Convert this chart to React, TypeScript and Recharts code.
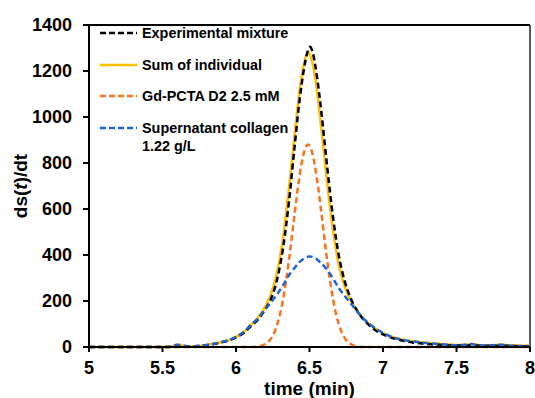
import React from "react";
import {
  LineChart,
  Line,
  XAxis,
  YAxis,
  ReferenceLine
} from "recharts";

// time axis (min), non-uniform so the peak gets more points
const time: number[] = [
  5.0, 5.1, 5.2, 5.3, 5.4, 5.5, 5.55, 5.6, 5.65, 5.7, 5.75, 5.8, 5.85, 5.9, 5.95,
  6.0, 6.05, 6.1, 6.15, 6.2, 6.24, 6.28, 6.32, 6.36, 6.4, 6.43, 6.46, 6.49, 6.505, 6.52,
  6.55, 6.58, 6.62, 6.66, 6.7, 6.74, 6.78, 6.82, 6.86, 6.9, 6.95, 7.0, 7.05, 7.1,
  7.2, 7.3, 7.4, 7.5, 7.55, 7.6, 7.65, 7.7, 7.75, 7.8, 7.85, 7.9, 8.0,
];

const experimental: number[] = [
  0, 0, 0, 0, 0, 0, 0, 2, 2, 2, 4, 8, 13, 20, 29,
  42, 60, 90, 120, 165, 212, 295, 430, 630, 880, 1060, 1200, 1290, 1305, 1285,
  1180, 1025, 785, 565, 395, 285, 212, 162, 125, 98, 72, 55, 42, 33,
  20, 13, 9, 6, 6, 8, 6, 5, 5, 6, 5, 4, 3,
];

const sumIndividual: number[] = [
  0, 0, 0, 0, 0, 0, 1, 10, 5, 2, 5, 9, 14, 21, 30,
  44, 64, 95, 128, 178, 234, 327, 475, 689, 932, 1103, 1225, 1284, 1268, 1236,
  1117, 951, 713, 505, 353, 261, 203, 161, 128, 104, 80, 62, 47, 37,
  25, 18, 13, 9, 10, 13, 9, 7, 8, 10, 8, 6, 5,
];

const gdPcta: number[] = [
  0, 0, 0, 0, 0, 0, 0, 0, 0, 0, 0, 0, 0, 0, 0,
  0, 0, 0, 3, 13, 39, 97, 207, 377, 587, 735, 841, 880, 870, 841,
  735, 587, 377, 207, 97, 39, 13, 3, 0, 0, 0, 0, 0, 0,
  0, 0, 0, 0, 0, 0, 0, 0, 0, 0, 0, 0, 0,
];

const supernatant: number[] = [
  0, 0, 0, 0, 0, 0, 1, 10, 5, 2, 5, 9, 14, 21, 30,
  44, 64, 95, 125, 165, 195, 230, 268, 312, 345, 368, 384, 393, 394, 392,
  382, 364, 336, 298, 256, 222, 190, 158, 128, 104, 80, 61, 46, 36,
  24, 17, 12, 8, 9, 13, 8, 6, 8, 10, 7, 5, 4,
];

const xTicks = [5, 5.5, 6, 6.5, 7, 7.5, 8];
const yTicks = [0, 200, 400, 600, 800, 1000, 1200, 1400];

const data = time.map((t, i) => ({
  t,
  experimental: experimental[i],
  sum: sumIndividual[i],
  gd: gdPcta[i],
  sup: supernatant[i],
}));

const FONT = "'Liberation Sans', Arial, sans-serif";
const BLACK = "#000000";
const YELLOW = "#FFC000";
const ORANGE = "#F7731E";
const BLUE = "#1C64D4";

const legendItems = [
  { label: ["Experimental mixture"], color: BLACK, dash: "6 3" },
  { label: ["Sum of individual"], color: YELLOW, dash: undefined },
  { label: ["Gd-PCTA D2 2.5 mM"], color: ORANGE, dash: "6 3" },
  { label: ["Supernatant collagen", "1.22 g/L"], color: BLUE, dash: "6 3" },
];

const tickStyle = { fontFamily: FONT, fontSize: 18, fontWeight: 700, fill: "#000" };

const App: React.FC = () => {
  return (
    <div style={{ position: "absolute", left: 0, top: 0, width: 535, height: 398, background: "#fff" }}>
      <LineChart
        width={535}
        height={398}
        data={data}
        margin={{ top: 25, right: 5, bottom: 21, left: 29 }}
      >
        <XAxis
          dataKey="t"
          type="number"
          domain={[5, 8]}
          ticks={xTicks}
          allowDataOverflow
          height={30}
          tickSize={5}
          tickMargin={9}
          stroke="#000"
          strokeWidth={2}
          tick={tickStyle}
          tickLine={{ stroke: "#000", strokeWidth: 2 }}
          label={(p: any) => (
            <text
              x={p.viewBox ? p.viewBox.x + p.viewBox.width / 2 : 309}
              y={395}
              textAnchor="middle"
              fontFamily={FONT}
              fontSize={19}
              fontWeight={700}
              fill="#000"
            >
              time (min)
            </text>
          )}
        />
        <YAxis
          type="number"
          domain={[0, 1400]}
          ticks={yTicks}
          width={60}
          tickSize={6}
          tickMargin={11}
          stroke="#000"
          strokeWidth={2}
          tick={tickStyle}
          tickLine={{ stroke: "#000", strokeWidth: 2 }}
          label={() => (
            <text
              x={27}
              y={186}
              transform="rotate(-90, 27, 186)"
              textAnchor="middle"
              fontFamily={FONT}
              fontSize={19}
              fontWeight={700}
              fill="#000"
            >
              ds(<tspan fontStyle="italic">t</tspan>)/dt
            </text>
          )}
        />
        <ReferenceLine y={1400} stroke="#000" strokeWidth={2} />
        <ReferenceLine x={8} stroke="#222" strokeWidth={1.5} />
        <Line
          dataKey="sum"
          type="monotone"
          stroke={YELLOW}
          strokeWidth={2.5}
          dot={false}
          isAnimationActive={false}
        />
        <Line
          dataKey="experimental"
          type="monotone"
          stroke={BLACK}
          strokeWidth={2.5}
          strokeDasharray="6 3.5"
          dot={false}
          isAnimationActive={false}
        />
        <Line
          dataKey="gd"
          type="monotone"
          stroke={ORANGE}
          strokeWidth={2.5}
          strokeDasharray="6 3.5"
          dot={false}
          isAnimationActive={false}
        />
        <Line
          dataKey="sup"
          type="monotone"
          stroke={BLUE}
          strokeWidth={2.5}
          strokeDasharray="6 3.5"
          dot={false}
          isAnimationActive={false}
        />
      </LineChart>

      {/* legend sits inside the plot, top-left */}
      <div style={{ position: "absolute", left: 100, top: 24, fontFamily: FONT, fontSize: 14.4, fontWeight: 700, color: "#000" }}>
        {legendItems.map((it, i) => (
          <div key={i} style={{ display: "flex", alignItems: "flex-start", height: 31.5 }}>
            <svg width={38} height={18} style={{ flex: "none" }}>
              <line
                x1={0}
                y1={9}
                x2={37}
                y2={9}
                stroke={it.color}
                strokeWidth={2.5}
                strokeDasharray={it.dash}
              />
            </svg>
            <div style={{ marginLeft: 4, lineHeight: "18px" }}>
              {it.label.map((l, j) => (
                <div key={j}>{l}</div>
              ))}
            </div>
          </div>
        ))}
      </div>
    </div>
  );
};

export default App;
